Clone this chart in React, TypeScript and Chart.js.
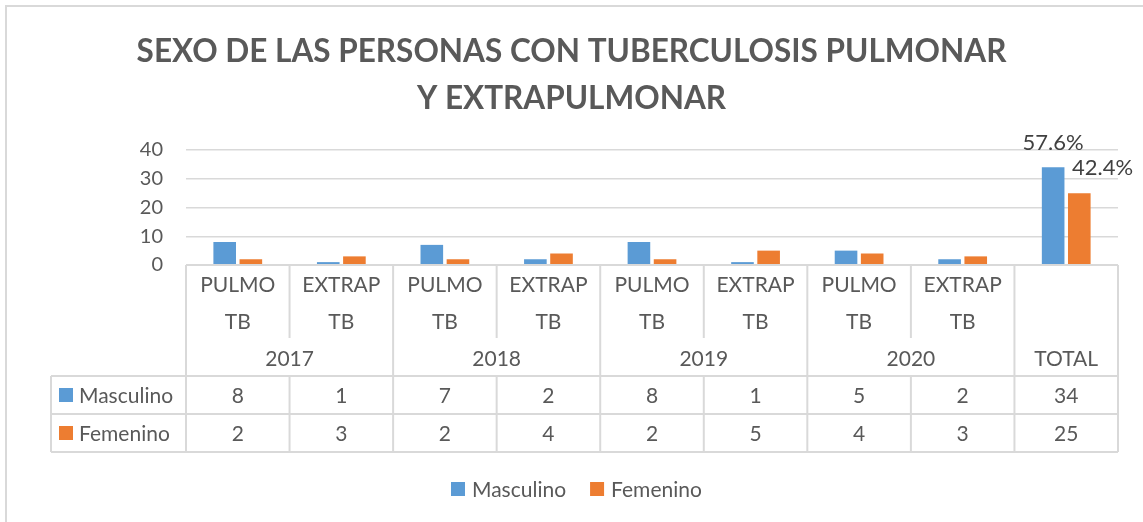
import React, { useEffect, useRef } from "react";
import { Chart, registerables } from "chart.js";

Chart.register(...registerables);

const titleLines = ["SEXO DE LAS PERSONAS CON TUBERCULOSIS PULMONAR", "Y EXTRAPULMONAR"];
const categories = ["PULMO TB", "EXTRAP TB", "PULMO TB", "EXTRAP TB", "PULMO TB", "EXTRAP TB", "PULMO TB", "EXTRAP TB", "TOTAL"];
const catLine1 = ["PULMO", "EXTRAP", "PULMO", "EXTRAP", "PULMO", "EXTRAP", "PULMO", "EXTRAP", ""];
const catLine2 = ["TB", "TB", "TB", "TB", "TB", "TB", "TB", "TB", ""];
const groupLabels = ["2017", "2018", "2019", "2020", "TOTAL"];
const groupSpans = [2, 2, 2, 2, 1];
const seriesNames = ["Masculino", "Femenino"];
const masculino = [8, 1, 7, 2, 8, 1, 5, 2, 34];
const femenino = [2, 3, 2, 4, 2, 5, 4, 3, 25];
const masculinoLabels = ["", "", "", "", "", "", "", "", "57.6%"];
const femeninoLabels = ["", "", "", "", "", "", "", "", "42.4%"];
const yMin = 0;
const yMax = 40;
const yStep = 10;

const BLUE = "#5B9BD5";
const ORANGE = "#ED7D31";
const TEXT = "#595959";
const LINE = "#d9d9d9";
const FONT = "Lato";

const framePlugin = {
  id: "frame",
  beforeDraw(chart: any) {
    const ctx = chart.ctx;
    ctx.save();
    ctx.fillStyle = "#ffffff";
    ctx.fillRect(0, 0, chart.width, chart.height);
    ctx.strokeStyle = LINE;
    ctx.lineWidth = 2;
    ctx.strokeRect(6, 6, chart.width + 20, chart.height + 20);
    // title
    ctx.fillStyle = TEXT;
    ctx.font = `bold 31.5px ${FONT}`;
    ctx.textAlign = "center";
    ctx.textBaseline = "alphabetic";
    titleLines.forEach((t, i) => {
      ctx.fillText(t, chart.width / 2, 62 + i * 47);
    });
    ctx.restore();
  },
};

const labelPlugin = {
  id: "totalLabels",
  afterDatasetsDraw(chart: any) {
    const ctx = chart.ctx;
    const labelSets = [masculinoLabels, femeninoLabels];
    ctx.save();
    ctx.font = `22px ${FONT}`;
    ctx.fillStyle = "#404040";
    ctx.textBaseline = "alphabetic";
    labelSets.forEach((labels, di) => {
      const meta = chart.getDatasetMeta(di);
      meta.data.forEach((el: any, i: number) => {
        const t = labels[i];
        if (!t) return;
        if (di === 0) {
          ctx.textAlign = "center";
          ctx.fillText(t, el.x, el.y - 17);
        } else {
          ctx.textAlign = "left";
          ctx.fillText(t, el.x - el.width / 2 + 4, el.y - 18);
        }
      });
    });
    ctx.restore();
  },
};

const tablePlugin = {
  id: "dataTable",
  afterDraw(chart: any) {
    const ctx = chart.ctx;
    const area = chart.chartArea;
    const L = area.left;
    const R = area.right;
    const T = area.bottom;
    const n = categories.length;
    const cw = (R - L) / n;
    const fs = 21;
    const cap = fs * 0.36;
    const yLine1 = T + 19;
    const yLine2 = T + 56;
    const yYear = T + 93;
    const headBottom = T + 111;
    const row1Bottom = T + 149;
    const row2Bottom = T + 187;
    const tableLeft = 51;

    ctx.save();
    ctx.strokeStyle = LINE;
    ctx.lineWidth = 2;
    const line = (x1: number, y1: number, x2: number, y2: number) => {
      ctx.beginPath();
      ctx.moveTo(x1, y1);
      ctx.lineTo(x2, y2);
      ctx.stroke();
    };
    line(L, T, R, T);
    line(tableLeft, headBottom, R, headBottom);
    line(tableLeft, row1Bottom, R, row1Bottom);
    line(tableLeft, row2Bottom, R, row2Bottom);
    line(tableLeft, headBottom, tableLeft, row2Bottom);
    let idx = 0;
    const groupStarts: number[] = [];
    groupSpans.forEach((s) => {
      groupStarts.push(idx);
      idx += s;
    });
    for (let i = 0; i <= n; i++) {
      const x = L + i * cw;
      const isGroupEdge = i === n || groupStarts.indexOf(i) >= 0;
      if (isGroupEdge) {
        line(x, T, x, row2Bottom);
      } else {
        line(x, T, x, T + 73);
        line(x, headBottom, x, row2Bottom);
      }
    }

    ctx.fillStyle = TEXT;
    ctx.font = `${fs}px ${FONT}`;
    ctx.textAlign = "center";
    ctx.textBaseline = "alphabetic";
    for (let i = 0; i < n; i++) {
      const cx = L + (i + 0.5) * cw;
      if (catLine1[i]) ctx.fillText(catLine1[i], cx, yLine1 + cap);
      if (catLine2[i]) ctx.fillText(catLine2[i], cx, yLine2 + cap);
      ctx.fillText(String(masculino[i]), cx, (headBottom + row1Bottom) / 2 + cap);
      ctx.fillText(String(femenino[i]), cx, (row1Bottom + row2Bottom) / 2 + cap);
    }
    groupSpans.forEach((s, g) => {
      const cx = L + (groupStarts[g] + s / 2) * cw;
      ctx.fillText(groupLabels[g], cx, yYear + cap);
    });
    const rowCenters = [(headBottom + row1Bottom) / 2, (row1Bottom + row2Bottom) / 2];
    const colors = [BLUE, ORANGE];
    ctx.textAlign = "left";
    seriesNames.forEach((name, k) => {
      const cy = rowCenters[k];
      ctx.fillStyle = colors[k];
      ctx.fillRect(59, cy - 7, 14, 14);
      ctx.fillStyle = TEXT;
      ctx.fillText(name, 79, cy + cap);
    });

    // bottom legend
    const ly = 489;
    const box = 14;
    const gap = 7;
    const spacing = 24;
    let x = 451;
    seriesNames.forEach((name, k) => {
      const w = ctx.measureText(name).width;
      ctx.fillStyle = colors[k];
      ctx.fillRect(x, ly - 7, box, box);
      ctx.fillStyle = TEXT;
      ctx.fillText(name, x + box + gap, ly + cap);
      x += box + gap + w + spacing;
    });
    ctx.restore();
  },
};

export default function App() {
  const ref = useRef<HTMLCanvasElement | null>(null);
  useEffect(() => {
    if (!ref.current) return;
    const chart = new Chart(ref.current, {
      type: "bar",
      data: {
        labels: categories,
        datasets: [
          { label: seriesNames[0], data: masculino, backgroundColor: BLUE, categoryPercentage: 0.505, barPercentage: 0.865 },
          { label: seriesNames[1], data: femenino, backgroundColor: ORANGE, categoryPercentage: 0.505, barPercentage: 0.865 },
        ],
      },
      options: {
        animation: false,
        responsive: false,
        devicePixelRatio: 1,
        layout: { padding: { left: 0, right: 25, top: 150, bottom: 257 } },
        plugins: {
          legend: { display: false },
          tooltip: { enabled: false },
          title: { display: false },
        },
        scales: {
          x: { display: false },
          y: {
            min: yMin,
            max: yMax,
            ticks: { stepSize: yStep, color: TEXT, font: { family: FONT, size: 20 }, padding: 23 },
            grid: { color: LINE, lineWidth: 1.5, drawTicks: false },
            border: { display: false },
            afterFit: (scale: any) => {
              scale.width = 186;
            },
          },
        },
      },
      plugins: [framePlugin, labelPlugin, tablePlugin],
    });
    return () => chart.destroy();
  }, []);
  return (
    <div style={{ position: "absolute", left: 0, top: 0, width: 1143, height: 522 }}>
      <canvas ref={ref} width={1143} height={522} />
    </div>
  );
}
